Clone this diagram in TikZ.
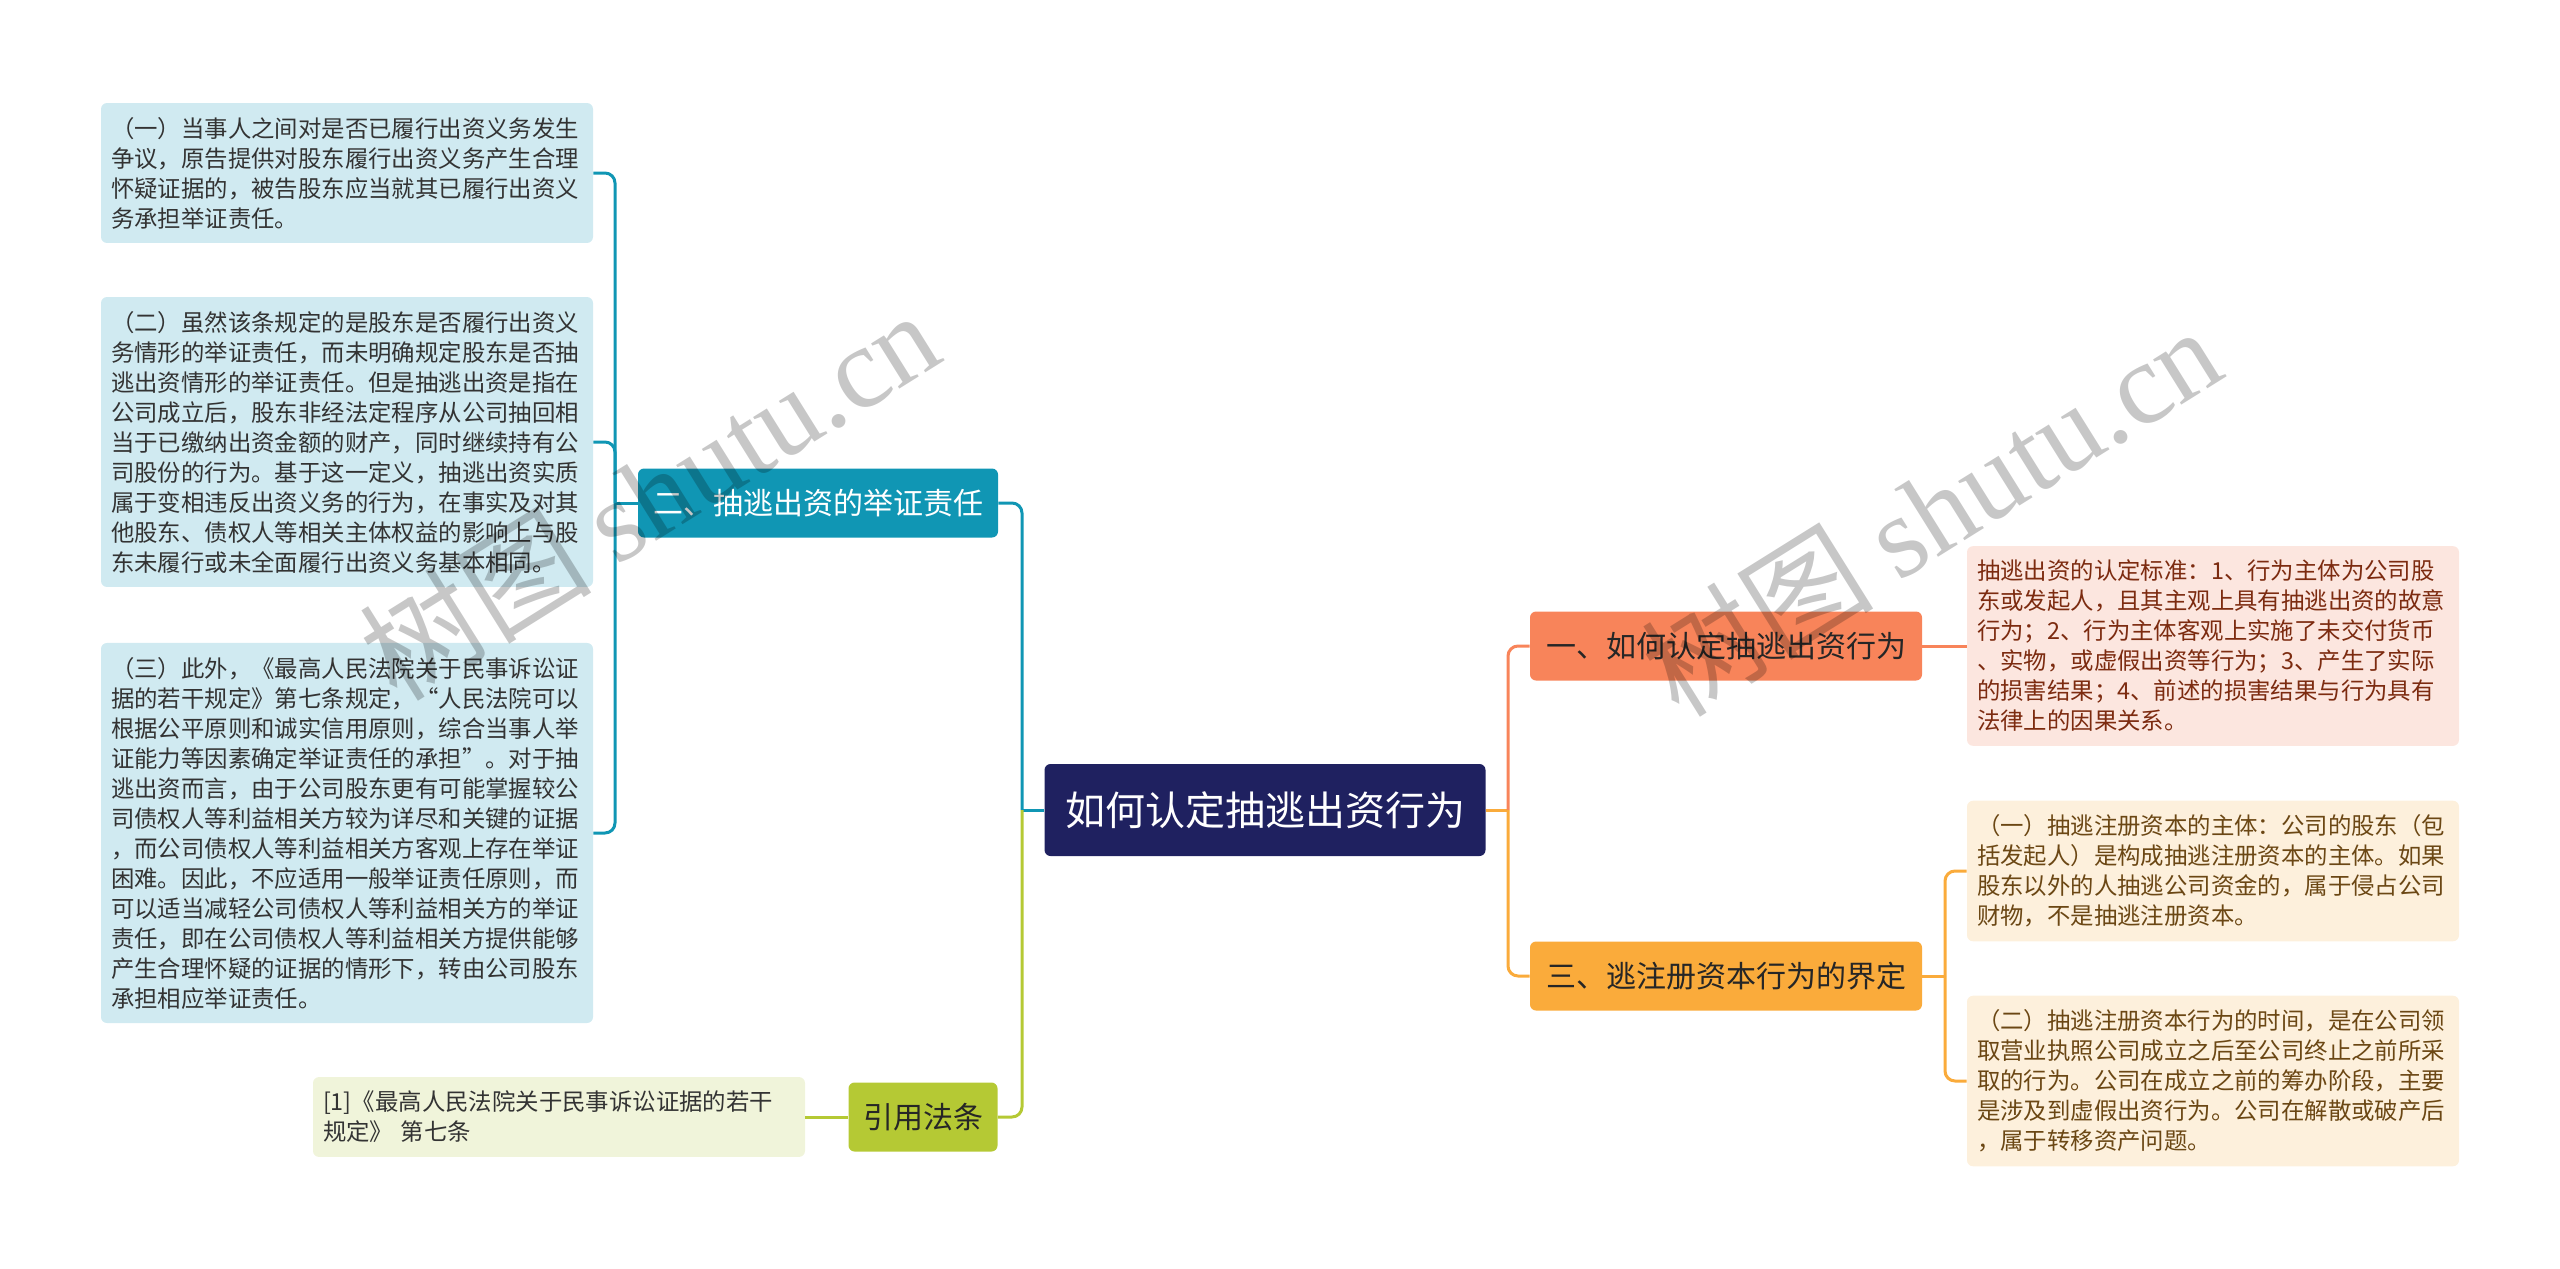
\documentclass[tikz,border=0pt]{standalone}
\usepackage{fontspec}
\setmainfont{Noto Sans CJK SC}
\newfontfamily\wmlatin{Liberation Serif}
\usetikzlibrary{positioning}

\definecolor{rootblue}{HTML}{1F2160}
\definecolor{bteal}{HTML}{1096B4}
\definecolor{bgreen}{HTML}{B5C934}
\definecolor{bsalmon}{HTML}{F8845A}
\definecolor{borange}{HTML}{FAAB3B}
\definecolor{lteal}{HTML}{D0EAF1}
\definecolor{lgreen}{HTML}{F0F4DA}
\definecolor{lpink}{HTML}{FCE6DF}
\definecolor{lcream}{HTML}{FDF0DC}
\definecolor{tred}{HTML}{7C2B10}
\definecolor{tbrown}{HTML}{6B4714}

\begin{document}
\begin{tikzpicture}[x=0.5pt, y=-0.5pt,
  every node/.style={font=\fontsize{11.7}{15}\selectfont},
  central/.style={rectangle, rounded corners=3pt, fill=rootblue, text=white,
    minimum width=220.5pt, minimum height=46pt, font=\fontsize{20}{24}\selectfont},
  branch/.style={rectangle, rounded corners=3pt, minimum height=34.5pt,
    inner xsep=0pt, text=black!85, font=\fontsize{15}{18}\selectfont},
  leaf/.style={rectangle, rounded corners=3pt, text width=236pt, inner xsep=5pt,
    inner ysep=7pt, align=left, text=black!80},
  link/.style={line width=1.5pt, rounded corners=5pt},
  wmtext/.style={text=black, text opacity=0.22, font=\fontsize{58}{60}\selectfont}]
\useasboundingbox (0,0) rectangle (2560,1269);

% centre and main topics
\node (root) [central] at (1265,810) {如何认定抽逃出资行为};
\node (b2) [branch, fill=bteal, text=white, minimum width=180pt] at (818,503) {二、抽逃出资的举证责任};
\node (b4) [branch, fill=bgreen, minimum width=74.5pt] at (923,1117) {引用法条};
\node (b1) [branch, fill=bsalmon, minimum width=196pt] at (1726,646) {一、如何认定抽逃出资行为};
\node (b3) [branch, fill=borange, minimum width=196pt] at (1726,976) {三、逃注册资本行为的界定};

% left leaves
\node (l1) [leaf, fill=lteal] at (347,173) {（一）当事人之间对是否已履行出资义务发生\\争议，原告提供对股东履行出资义务产生合理\\怀疑证据的，被告股东应当就其已履行出资义\\务承担举证责任。};
\node (l2) [leaf, fill=lteal] at (347,442) {（二）虽然该条规定的是股东是否履行出资义\\务情形的举证责任，而未明确规定股东是否抽\\逃出资情形的举证责任。但是抽逃出资是指在\\公司成立后，股东非经法定程序从公司抽回相\\当于已缴纳出资金额的财产，同时继续持有公\\司股份的行为。基于这一定义，抽逃出资实质\\属于变相违反出资义务的行为，在事实及对其\\他股东、债权人等相关主体权益的影响上与股\\东未履行或未全面履行出资义务基本相同。};
\node (l3) [leaf, fill=lteal] at (347,833) {（三）此外，《最高人民法院关于民事诉讼证\\据的若干规定》第七条规定，“人民法院可以\\根据公平原则和诚实信用原则，综合当事人举\\证能力等因素确定举证责任的承担”。对于抽\\逃出资而言，由于公司股东更有可能掌握较公\\司债权人等利益相关方较为详尽和关键的证据\\，而公司债权人等利益相关方客观上存在举证\\困难。因此，不应适用一般举证责任原则，而\\可以适当减轻公司债权人等利益相关方的举证\\责任，即在公司债权人等利益相关方提供能够\\产生合理怀疑的证据的情形下，转由公司股东\\承担相应举证责任。};
\node (cite) [leaf, fill=lgreen] at (559,1117) {[1]《最高人民法院关于民事诉讼证据的若干\\规定》 第七条};

% right leaves
\node (r1) [leaf, fill=lpink, text=tred] at (2213,646) {抽逃出资的认定标准：1、行为主体为公司股\\东或发起人，且其主观上具有抽逃出资的故意\\行为；2、行为主体客观上实施了未交付货币\\、实物，或虚假出资等行为；3、产生了实际\\的损害结果；4、前述的损害结果与行为具有\\法律上的因果关系。};
\node (r2) [leaf, fill=lcream, text=tbrown] at (2213,871) {（一）抽逃注册资本的主体：公司的股东（包\\括发起人）是构成抽逃注册资本的主体。如果\\股东以外的人抽逃公司资金的，属于侵占公司\\财物，不是抽逃注册资本。};
\node (r3) [leaf, fill=lcream, text=tbrown] at (2213,1081) {（二）抽逃注册资本行为的时间，是在公司领\\取营业执照公司成立之后至公司终止之前所采\\取的行为。公司在成立之前的筹办阶段，主要\\是涉及到虚假出资行为。公司在解散或破产后\\，属于转移资产问题。};

% connectors
\coordinate (lhub) at (1022,810);
\coordinate (rhub) at (1508,810);
\coordinate (b2hub) at (615,503);
\coordinate (b3hub) at (1945,976);
\draw [link, bteal] (root.west) -- (lhub);
\draw [link, bteal] (lhub) |- (b2.east);
\draw [link, bgreen] (lhub) |- (b4.east);
\draw [link, bteal] (b2.west) -- (b2hub);
\draw [link, bteal] (b2hub) |- (l1.east);
\draw [link, bteal] (b2hub) |- (l2.east);
\draw [link, bteal] (b2hub) |- (l3.east);
\draw [link, bgreen] (b4.west) -- (cite.east);
\draw [link, borange] (root.east) -- (rhub);
\draw [link, bsalmon] (rhub) |- (b1.west);
\draw [link, borange] (rhub) |- (b3.west);
\draw [link, bsalmon] (b1.east) -- (r1.west);
\draw [link, borange] (b3.east) -- (b3hub);
\draw [link, borange] (b3hub) |- (r2.west);
\draw [link, borange] (b3hub) |- (r3.west);

% watermarks
\node (wm1) [wmtext, rotate=32] at (649,494) {树图 {\wmlatin shutu.cn}};
\node (wm2) [wmtext, rotate=32] at (1931,510) {树图 {\wmlatin shutu.cn}};
\end{tikzpicture}
\end{document}
